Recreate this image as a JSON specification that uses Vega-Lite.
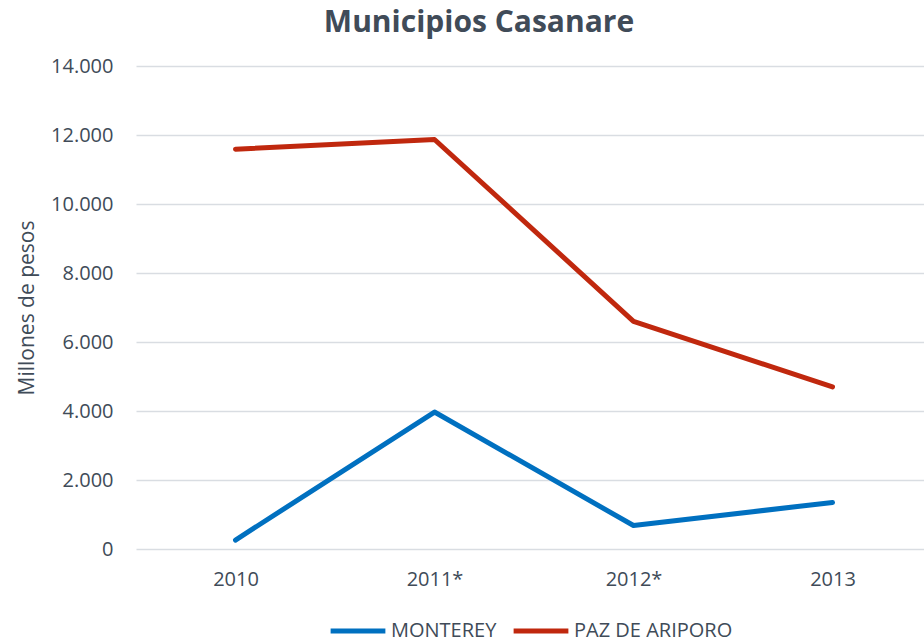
{
  "$schema": "https://vega.github.io/schema/vega-lite/v6.json",
  "autosize": "none",
  "width": 796,
  "height": 483,
  "padding": {"left": 136, "top": 66, "right": 0, "bottom": 94},
  "background": "white",
  "title": {
    "text": "Municipios Casanare",
    "fontSize": 30,
    "font": "Open Sans",
    "fontWeight": "bold",
    "color": "#404B58",
    "anchor": "middle",
    "dx": -55,
    "offset": 18
  },
  "config": {
    "view": {"stroke": null},
    "font": "Open Sans"
  },
  "data": {
    "values": [
      {"anio": "2010", "municipio": "MONTEREY", "valor": 260},
      {"anio": "2011*", "municipio": "MONTEREY", "valor": 3970},
      {"anio": "2012*", "municipio": "MONTEREY", "valor": 680},
      {"anio": "2013", "municipio": "MONTEREY", "valor": 1350},
      {"anio": "2010", "municipio": "PAZ DE ARIPORO", "valor": 11590},
      {"anio": "2011*", "municipio": "PAZ DE ARIPORO", "valor": 11870},
      {"anio": "2012*", "municipio": "PAZ DE ARIPORO", "valor": 6600},
      {"anio": "2013", "municipio": "PAZ DE ARIPORO", "valor": 4700}
    ]
  },
  "mark": {"type": "line", "strokeWidth": 5, "strokeCap": "round", "strokeJoin": "round"},
  "encoding": {
    "x": {
      "field": "anio",
      "type": "ordinal",
      "sort": ["2010", "2011*", "2012*", "2013"],
      "scale": {"type": "point", "padding": 0.5},
      "axis": {
        "title": null,
        "labelAngle": 0,
        "labelFontSize": 20,
        "labelColor": "#404B58",
        "labelPadding": 20,
        "domain": false,
        "ticks": false,
        "grid": false
      }
    },
    "y": {
      "field": "valor",
      "type": "quantitative",
      "scale": {"domain": [0, 14000], "nice": false},
      "axis": {
        "title": "Millones de pesos",
        "titleFontSize": 21,
        "titleFontWeight": "normal",
        "titleColor": "#404B58",
        "titlePadding": 13,
        "values": [0, 2000, 4000, 6000, 8000, 10000, 12000, 14000],
        "labelExpr": "replace(format(datum.value, ',d'), ',', '.')",
        "labelFontSize": 20,
        "labelColor": "#404B58",
        "labelPadding": 23,
        "domain": false,
        "ticks": false,
        "gridColor": "#D9DDE2",
        "gridWidth": 1.3
      }
    },
    "color": {
      "field": "municipio",
      "type": "nominal",
      "scale": {"domain": ["MONTEREY", "PAZ DE ARIPORO"], "range": ["#0070C0", "#C0280E"]},
      "legend": {
        "title": null,
        "orient": "none",
        "direction": "horizontal",
        "legendX": 192,
        "legendY": 535,
        "symbolType": "stroke",
        "symbolStrokeWidth": 5,
        "symbolSize": 3000,
        "labelFontSize": 20,
        "labelColor": "#404B58",
        "labelOffset": 3,
        "columnPadding": 6
      }
    }
  }
}
